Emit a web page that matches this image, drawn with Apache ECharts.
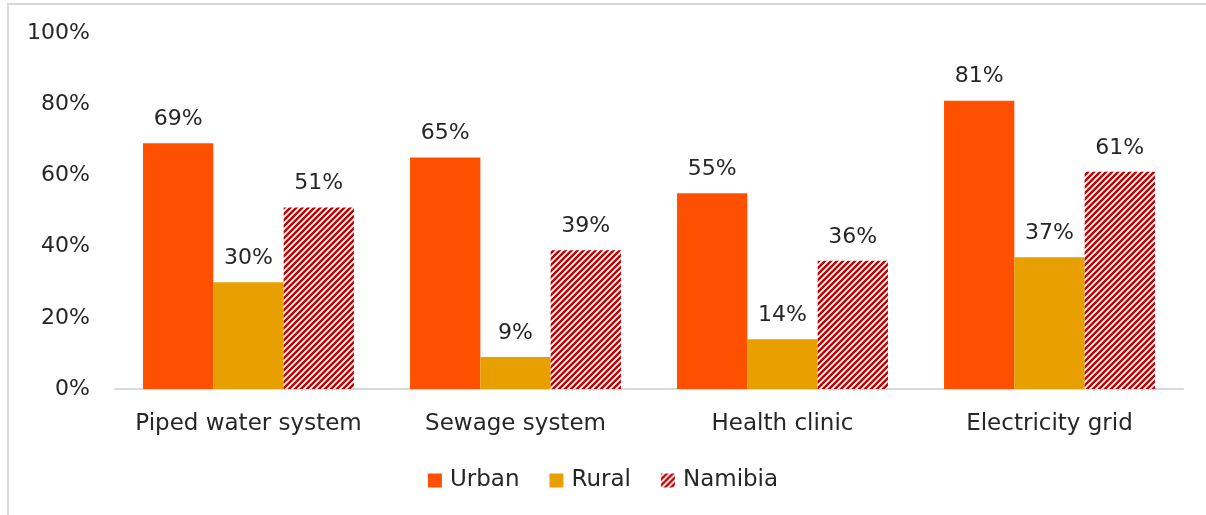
<!DOCTYPE html>
<html>
<head>
<meta charset="utf-8">
<script src="https://cdn.jsdelivr.net/npm/echarts@6/dist/echarts.min.js"></script>
<style>
  html, body { margin: 0; padding: 0; background: #fff; }
  #frame { position: absolute; left: 7px; top: 3px; width: 1210px; height: 520px; border: 2px solid #D9D9D9; box-sizing: border-box; }
  #chart { position: absolute; left: 0; top: 0; width: 1206px; height: 515px; }
</style>
</head>
<body>
<div id="frame"></div>
<div id="chart"></div>
<script>
  // data
  var categories = ['Piped water system', 'Sewage system', 'Health clinic', 'Electricity grid'];
  var urban = [69, 65, 55, 81];
  var rural = [30, 9, 14, 37];
  var namibia = [51, 39, 36, 61];
  var yTicks = [0, 20, 40, 60, 80, 100];

  // red/white diagonal hatch
  function hatch() {
    var c = document.createElement('canvas');
    c.width = 6; c.height = 6;
    var ctx = c.getContext('2d');
    ctx.fillStyle = '#fff';
    ctx.fillRect(0, 0, 6, 6);
    ctx.strokeStyle = '#C00000';
    ctx.lineWidth = 2.4;
    ctx.beginPath();
    ctx.moveTo(-3, 3); ctx.lineTo(3, -3);
    ctx.moveTo(0, 6); ctx.lineTo(6, 0);
    ctx.moveTo(3, 9); ctx.lineTo(9, 3);
    ctx.stroke();
    return c;
  }

  var font = '"DejaVu Sans", sans-serif';
  var txt = '#262626';
  var fs = 22;

  function lbl() {
    return {
      show: true, position: 'top', distance: 13,
      formatter: '{c}%', color: txt, fontFamily: font, fontSize: fs
    };
  }

  var chart = echarts.init(document.getElementById('chart'), null, { renderer: 'canvas' });
  chart.setOption({
    animation: false,
    textStyle: { fontFamily: font },
    grid: { left: 115, right: 23, top: 33, bottom: 126 },
    legend: {
      bottom: 18, left: 'center',
      icon: 'rect',
      itemWidth: 14, itemHeight: 14, itemGap: 30,
      textStyle: { color: txt, fontFamily: font, fontSize: fs + 1, padding: [0, 0, 0, 3] },
      data: ['Urban', 'Rural', 'Namibia']
    },
    xAxis: {
      type: 'category',
      data: categories,
      axisLine: { lineStyle: { color: '#D9D9D9', width: 2 } },
      axisTick: { show: false },
      axisLabel: { color: txt, fontFamily: font, fontSize: fs + 1, margin: 24, interval: 0 }
    },
    yAxis: {
      type: 'value', min: yTicks[0], max: yTicks[yTicks.length - 1], interval: 20,
      splitLine: { show: false },
      axisLabel: { color: txt, fontFamily: font, fontSize: fs, margin: 25, formatter: '{value}%' }
    },
    series: [
      { name: 'Urban', type: 'bar', data: urban, barGap: '0%', barCategoryGap: '21%',
        itemStyle: { color: '#FF5000' }, label: lbl() },
      { name: 'Rural', type: 'bar', data: rural,
        itemStyle: { color: '#E8A000' }, label: lbl() },
      { name: 'Namibia', type: 'bar', data: namibia,
        itemStyle: { color: { image: hatch(), repeat: 'repeat' } }, label: lbl() }
    ]
  });
</script>
</body>
</html>
